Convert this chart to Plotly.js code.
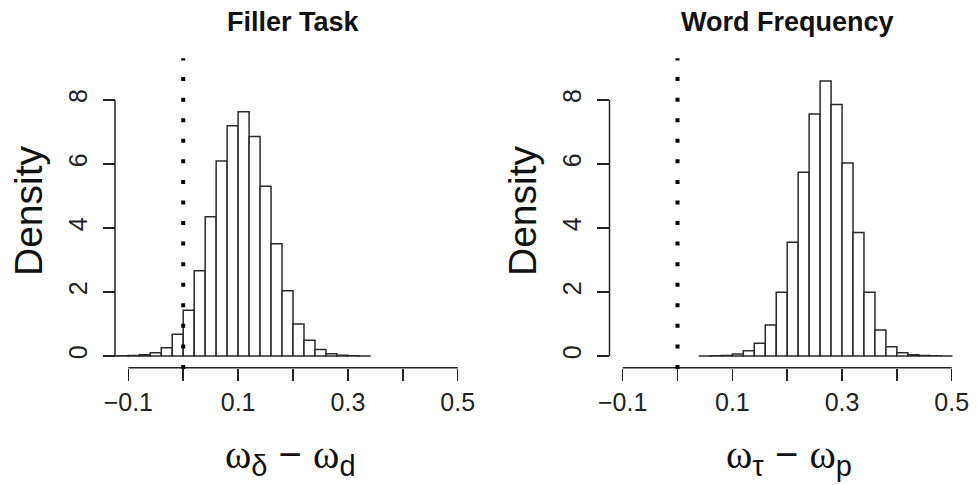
<!DOCTYPE html>
<html>
<head>
<meta charset="utf-8">
<script src="https://cdn.plot.ly/plotly-3.0.1.min.js"></script>
<style>html,body{margin:0;padding:0;background:#fff;}#chart{width:977px;height:485px;}</style>
</head>
<body>
<div id="chart"></div>
<script>
// ---- data ----
var binWidth = 0.02;
var fillerBinStarts = [-0.14,-0.12,-0.10,-0.08,-0.06,-0.04,-0.02,0.00,0.02,0.04,0.06,0.08,0.10,0.12,0.14,0.16,0.18,0.20,0.22,0.24,0.26,0.28,0.30,0.32];
var fillerDensity  = [0.003,0.005,0.015,0.04,0.10,0.26,0.68,1.43,2.66,4.35,6.09,7.19,7.63,6.86,5.30,3.51,2.04,1.00,0.49,0.20,0.07,0.025,0.008,0.003];
var wordBinStarts  = [0.04,0.06,0.08,0.10,0.12,0.14,0.16,0.18,0.20,0.22,0.24,0.26,0.28,0.30,0.32,0.34,0.36,0.38,0.40,0.42,0.44,0.46,0.48];
var wordDensity    = [0.003,0.005,0.015,0.06,0.16,0.40,0.97,1.99,3.55,5.74,7.56,8.59,7.86,6.03,3.86,1.99,0.81,0.29,0.10,0.035,0.012,0.005,0.002];
var xTickVals = [-0.1,0.1,0.3,0.5];
var xTickText = ['\u22120.1','0.1','0.3','0.5'];
var xMinorTickVals = [0,0.2,0.4];
var yTickVals = [0,2,4,6,8];
var yTickText = ['0','2','4','6','8'];
var panelTitles = ['Filler Task','Word Frequency'];
var xLabelParts = [['\u03b4','d'], ['\u03c4','p']];   // subscripts of  omega_a - omega_b
var yLabel = 'Density';
var refLine = 0;

// ---- layout geometry ----
var W = 977, H = 485;
var ink = '#222222';
function px2x(p){ return p / W; }
function px2y(p){ return 1 - p / H; }
var yRange = [-0.366, 9.3];
var yDom = [px2y(367.7), px2y(58.3)];
var xRange1 = [-0.146, 0.524], xRange2 = [-0.124, 0.524];
var xDom1 = [px2x(103.05), px2x(470.9)];
var xDom2 = [px2x(609.5), px2x(964.9)];
var xLineEnds = [xTickVals[0], xTickVals[xTickVals.length-1]];

function centers(starts){ return starts.map(function(s){ return s + binWidth/2; }); }

var barStyle = {color:'#ffffff', line:{color:'#2a2a2a', width:1.5}};
var traces = [
  {type:'bar', x:centers(fillerBinStarts), y:fillerDensity, width:binWidth, marker:barStyle, xaxis:'x', yaxis:'y', hoverinfo:'skip'},
  {type:'bar', x:centers(wordBinStarts), y:wordDensity, width:binWidth, marker:barStyle, xaxis:'x2', yaxis:'y2', hoverinfo:'skip'}
];

var tickFont = {family:'Liberation Sans, Arial, sans-serif', size:25, color:ink};
function xAxis(dom, rng, anchor){
  return {domain:dom, range:rng, anchor:anchor, showgrid:false, zeroline:false, showline:false,
    tickmode:'array', tickvals:xTickVals, ticktext:xTickText, ticks:'outside', ticklen:12, tickwidth:1.5,
    tickcolor:ink, tickfont:tickFont, fixedrange:true,
    minor:{tickmode:'array', tickvals:xMinorTickVals, ticks:'outside', ticklen:12, tickwidth:1.5, tickcolor:ink, showgrid:false}};
}
function yAxis(dom, extra){
  var a = {domain:dom, range:yRange, showgrid:false, zeroline:false, showline:false,
    tickmode:'array', tickvals:yTickVals, ticktext:yTickText, ticks:'outside', ticklen:12, tickwidth:1.5,
    tickcolor:ink, tickfont:tickFont, tickangle:-90, ticklabelstandoff:6, fixedrange:true};
  for (var k in extra) a[k] = extra[k];
  return a;
}

var shapes = [
  {type:'line', xref:'x', yref:'y domain', x0:xLineEnds[0], x1:xLineEnds[1], y0:0, y1:0, line:{color:ink, width:1.5}},
  {type:'line', xref:'x2', yref:'y2 domain', x0:xLineEnds[0], x1:xLineEnds[1], y0:0, y1:0, line:{color:ink, width:1.5}},
  {type:'line', xref:'paper', yref:'y', x0:px2x(115), x1:px2x(115), y0:yTickVals[0], y1:yTickVals[yTickVals.length-1], line:{color:ink, width:1.5}},
  {type:'line', xref:'x2 domain', yref:'y2', x0:0, x1:0, y0:yTickVals[0], y1:yTickVals[yTickVals.length-1], line:{color:ink, width:1.5}},
  {type:'line', xref:'x', yref:'y domain', x0:refLine, x1:refLine, y0:-0.004, y1:1, line:{color:'#000', width:4, dash:'4px,16.56px'}},
  {type:'line', xref:'x2', yref:'y2 domain', x0:refLine, x1:refLine, y0:-0.004, y1:1, line:{color:'#000', width:4, dash:'4px,16.56px'}}
];

function mathLabel(parts){
  var om = '<span style="font-family:Liberation Serif, Times New Roman, serif">\u03c9</span>';
  var sub = function(s){ return '<sub><span style="font-family:Liberation Sans, Arial, sans-serif;font-size:29px">' + s + '</span></sub>'; };
  return om + sub(parts[0]) + '<span style="font-family:Liberation Sans, Arial, sans-serif"> \u2212 </span>' + om + sub(parts[1]);
}

var titleFont = {family:'Liberation Sans, Arial, sans-serif', size:27, color:'#111'};
var labFont = {family:'Liberation Serif, Times New Roman, serif', size:40, color:'#111'};
var densFont = {family:'Liberation Sans, Arial, sans-serif', size:39, color:'#111'};
var annotations = [
  {xref:'paper', yref:'paper', x:px2x(293), y:px2y(22), text:'<b>'+panelTitles[0]+'</b>', showarrow:false, font:titleFont, xanchor:'center', yanchor:'middle'},
  {xref:'paper', yref:'paper', x:px2x(787), y:px2y(22), text:'<b>'+panelTitles[1]+'</b>', showarrow:false, font:titleFont, xanchor:'center', yanchor:'middle'},
  {xref:'paper', yref:'paper', x:px2x(290), y:px2y(457), text:mathLabel(xLabelParts[0]), showarrow:false, font:labFont, xanchor:'center', yanchor:'middle'},
  {xref:'paper', yref:'paper', x:px2x(789), y:px2y(457), text:mathLabel(xLabelParts[1]), showarrow:false, font:labFont, xanchor:'center', yanchor:'middle'},
  {xref:'paper', yref:'paper', x:px2x(28), y:px2y(211), text:yLabel, textangle:-90, showarrow:false, font:densFont, xanchor:'center', yanchor:'middle'},
  {xref:'paper', yref:'paper', x:px2x(522), y:px2y(211), text:yLabel, textangle:-90, showarrow:false, font:densFont, xanchor:'center', yanchor:'middle'}
];

var layout = {
  width:W, height:H, margin:{l:0, r:0, t:0, b:0, pad:0},
  paper_bgcolor:'#ffffff', plot_bgcolor:'#ffffff',
  showlegend:false, bargap:0, barmode:'overlay', hovermode:false,
  xaxis: xAxis(xDom1, xRange1, 'y'),
  yaxis: yAxis(yDom, {anchor:'free', position:px2x(115)}),
  xaxis2: xAxis(xDom2, xRange2, 'y2'),
  yaxis2: yAxis(yDom, {anchor:'x2'}),
  shapes: shapes,
  annotations: annotations
};

Plotly.newPlot('chart', traces, layout, {staticPlot:true, displayModeBar:false});
</script>
</body>
</html>
